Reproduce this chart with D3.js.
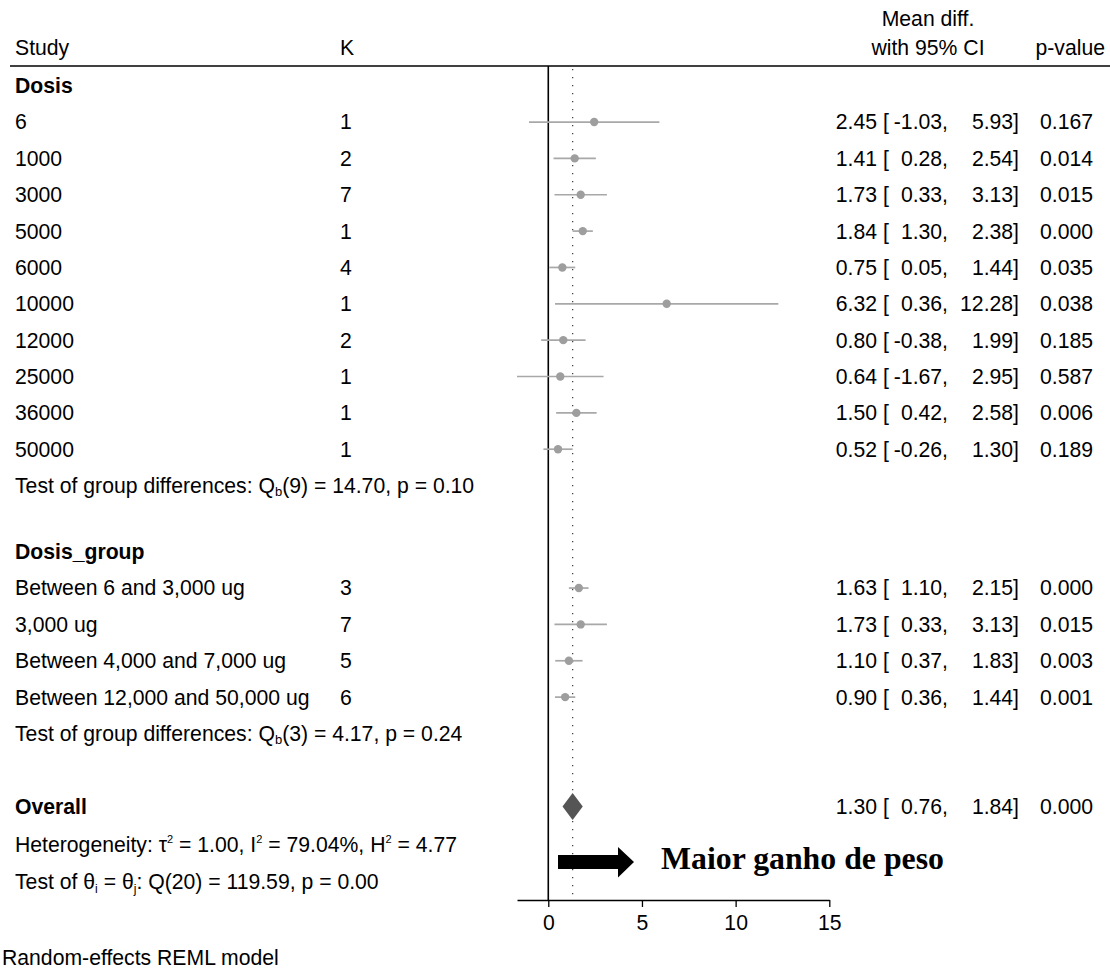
<!DOCTYPE html>
<html>
<head>
<meta charset="utf-8">
<script src="https://cdn.jsdelivr.net/npm/d3@7"></script>
<style>
  body { margin: 0; background: #fff; }
  text { font-family: "Liberation Sans", Arial, sans-serif; font-size: 21.2px; fill: #000; }
</style>
</head>
<body>
<div id="chart"></div>
<script>
// Dosis subgroup rows
const dosisLabels = ["6", "1000", "3000", "5000", "6000", "10000", "12000", "25000", "36000", "50000"];
const dosisK = [1, 2, 7, 1, 4, 1, 2, 1, 1, 1];
const dosisMean = [2.45, 1.41, 1.73, 1.84, 0.75, 6.32, 0.80, 0.64, 1.50, 0.52];
const dosisLower = [-1.03, 0.28, 0.33, 1.30, 0.05, 0.36, -0.38, -1.67, 0.42, -0.26];
const dosisUpper = [5.93, 2.54, 3.13, 2.38, 1.44, 12.28, 1.99, 2.95, 2.58, 1.30];
const dosisP = ["0.167", "0.014", "0.015", "0.000", "0.035", "0.038", "0.185", "0.587", "0.006", "0.189"];

// Dosis_group subgroup rows
const groupLabels = ["Between 6 and 3,000 ug", "3,000 ug", "Between 4,000 and 7,000 ug", "Between 12,000 and 50,000 ug"];
const groupK = [3, 7, 5, 6];
const groupMean = [1.63, 1.73, 1.10, 0.90];
const groupLower = [1.10, 0.33, 0.37, 0.36];
const groupUpper = [2.15, 3.13, 1.83, 1.44];
const groupP = ["0.000", "0.015", "0.003", "0.001"];

// Overall estimate
const overallMean = 1.30;
const overallLower = 0.76;
const overallUpper = 1.84;
const overallP = "0.000";

const xTicks = [0, 5, 10, 15];

let width = 1110;
let height = 971;

let svg = d3.select("#chart").append("svg")
    .attr("width", width)
    .attr("height", height);

// x scale: effect size -> pixels; y scale: row slot -> pixels
const xScale = d3.scaleLinear().domain([-1.67, 15]).range([517, 829.3]);
const yScale = d3.scaleLinear().domain([0, 1]).range([85.7, 122.05]);

// row slots
const dosisSlot = 0, dosisTestSlot = 11;
const groupSlot = 12.82, groupTestSlot = 17.82;
const overallSlot = 19.83, hetSlot = 20.88, thetaSlot = 21.9;
const ruleY = 66, axisY = 900;

// column positions
const colStudy = 15, colK = 340, colMean = 877, colLow = 948, colUp = 1019, colP = 1093;

function rowText(x, y, str, anchor) {
    return svg.append("text")
        .attr("x", x)
        .attr("y", y)
        .attr("dy", "0.35em")
        .attr("text-anchor", anchor || "start")
        .text(str);
}

// header
rowText(colStudy, 48, "Study");
rowText(colK, 48, "K");
rowText(928, 19, "Mean diff.", "middle");
rowText(928, 48, "with 95% CI", "middle");
rowText(1105, 48, "p-value", "end");

svg.append("line")
    .attr("x1", 10).attr("x2", width)
    .attr("y1", ruleY).attr("y2", ruleY)
    .attr("stroke", "#000").attr("stroke-width", 1.6);

// no-effect line and overall dotted line
svg.append("line")
    .attr("x1", xScale(0)).attr("x2", xScale(0))
    .attr("y1", ruleY).attr("y2", axisY)
    .attr("stroke", "#000").attr("stroke-width", 1.6);

svg.append("line")
    .attr("x1", xScale(overallMean)).attr("x2", xScale(overallMean))
    .attr("y1", ruleY + 3).attr("y2", axisY)
    .attr("stroke", "#444").attr("stroke-width", 1.3)
    .attr("stroke-dasharray", "1.3,6.7");

// x axis
const xAxis = d3.axisBottom(xScale).tickValues(xTicks).tickSizeInner(7).tickSizeOuter(0).tickFormat(d3.format("d"));
let axisG = svg.append("g")
    .attr("transform", `translate(0, ${axisY})`)
    .call(xAxis);
axisG.select(".domain").attr("stroke-width", 1.3);
axisG.selectAll(".tick line").attr("stroke-width", 1.3);
axisG.selectAll(".tick text")
    .attr("font-family", "Liberation Sans, Arial, sans-serif")
    .attr("font-size", 21.2)
    .attr("dy", "0.95em");

// draw one block of study rows
function drawRows(labels, ks, means, lows, ups, ps, startSlot) {
    labels.forEach(function(lab, i) {
        let y = yScale(startSlot + 1 + i);
        rowText(colStudy, y, lab);
        rowText(colK, y, ks[i]);
        rowText(colMean, y, means[i].toFixed(2), "end");
        rowText(colMean + 6, y, "[");
        rowText(colLow, y, lows[i].toFixed(2) + ",", "end");
        rowText(colUp, y, ups[i].toFixed(2) + "]", "end");
        rowText(colP, y, ps[i], "end");

        svg.append("line")
            .attr("x1", xScale(lows[i])).attr("x2", xScale(ups[i]))
            .attr("y1", y).attr("y2", y)
            .attr("stroke", "#a8a8a8").attr("stroke-width", 1.7);
        svg.append("circle")
            .attr("cx", xScale(means[i])).attr("cy", y)
            .attr("r", 4.2)
            .attr("fill", "#9e9e9e");
    });
}

function boldText(y, str) {
    rowText(colStudy, y, str).attr("font-weight", "bold");
}

function testText(y, df, q, p) {
    let t = rowText(colStudy, y, "Test of group differences: Q");
    t.append("tspan").attr("font-size", 13).attr("dy", 3).text("b");
    t.append("tspan").attr("dy", -3).text(`(${df}) = ${q}, p = ${p}`);
}

boldText(yScale(dosisSlot), "Dosis");
drawRows(dosisLabels, dosisK, dosisMean, dosisLower, dosisUpper, dosisP, dosisSlot);
testText(yScale(dosisTestSlot), 9, "14.70", "0.10");

boldText(yScale(groupSlot), "Dosis_group");
drawRows(groupLabels, groupK, groupMean, groupLower, groupUpper, groupP, groupSlot);
testText(yScale(groupTestSlot), 3, "4.17", "0.24");

// overall
let yo = yScale(overallSlot);
boldText(yo, "Overall");
rowText(colMean, yo, overallMean.toFixed(2), "end");
rowText(colMean + 6, yo, "[");
rowText(colLow, yo, overallLower.toFixed(2) + ",", "end");
rowText(colUp, yo, overallUpper.toFixed(2) + "]", "end");
rowText(colP, yo, overallP, "end");

svg.append("path")
    .attr("d", `M${xScale(overallLower)},${yo} L${xScale(overallMean)},${yo - 13.5} L${xScale(overallUpper)},${yo} L${xScale(overallMean)},${yo + 13.5} Z`)
    .attr("fill", "#555");

// heterogeneity line, superscript 2s
let het = rowText(colStudy, yScale(hetSlot), "Heterogeneity: \u03c4");
const hetParts = [" = 1.00, I", " = 79.04%, H", " = 4.77"];
hetParts.forEach(function(part) {
    het.append("tspan").attr("font-size", 11).attr("dy", -9).text("2");
    het.append("tspan").attr("dy", 9).text(part);
});

let th = rowText(colStudy, yScale(thetaSlot), "Test of \u03b8");
th.append("tspan").attr("font-size", 12).attr("dy", 4).text("i");
th.append("tspan").attr("dy", -4).text(" = \u03b8");
th.append("tspan").attr("font-size", 12).attr("dy", 4).text("j");
th.append("tspan").attr("dy", -4).text(": Q(20) = 119.59, p = 0.00");

// arrow annotation
svg.append("path")
    .attr("d", "M558,855 L618,855 L618,847 L634,862 L618,877.5 L618,869 L558,869 Z")
    .attr("fill", "#000");
svg.append("text")
    .attr("x", 661).attr("y", 869)
    .style("font-family", "'Liberation Serif', 'Times New Roman', serif")
    .style("font-size", "31.8px")
    .style("font-weight", "bold")
    .text("Maior ganho de peso");

// note
rowText(2, 958, "Random-effects REML model");
</script>
</body>
</html>
